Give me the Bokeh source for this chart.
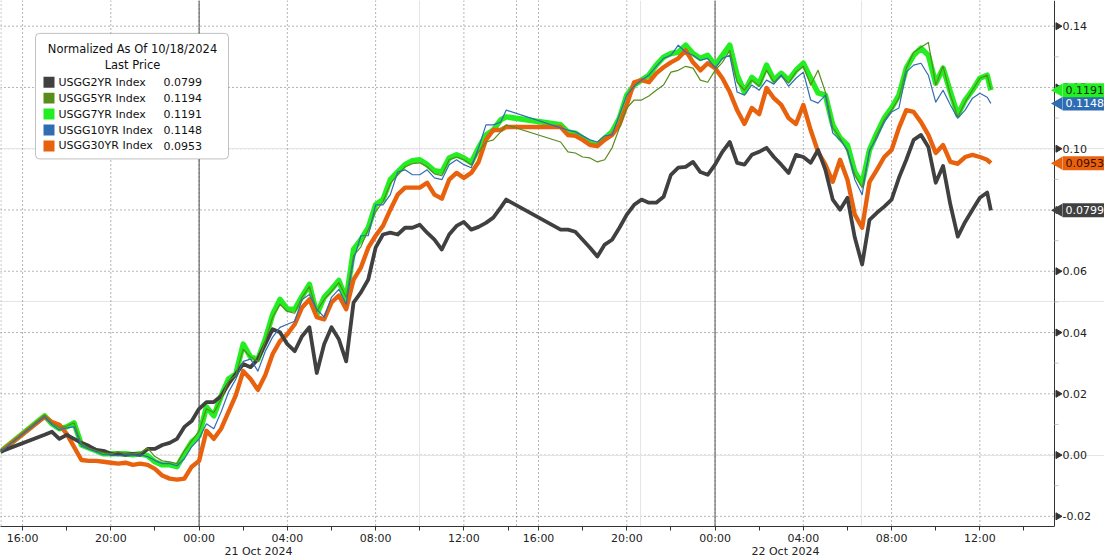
import math
import pandas as pd
from bokeh.plotting import figure
from bokeh.models import (Range1d, LinearAxis, FixedTicker, Span, Label, BoxAnnotation,
                          ColumnDataSource)
from bokeh.core.properties import value
from bokeh.embed import file_html
from bokeh.resources import INLINE

# ---------------- data ----------------
base_time = "2024-10-20 15:00"          # normalisation point (close of 10/18)
s1_start, s1_end, s1_last = "2024-10-20 17:00", "2024-10-21 13:40", "2024-10-21 13:55"
s2_start, s2_end, s2_last = "2024-10-21 17:00", "2024-10-22 12:20", "2024-10-22 12:30"
step = "20min"

series_names = ["USGG2YR Index", "USGG5YR Index", "USGG7YR Index", "USGG10YR Index", "USGG30YR Index"]

usgg2yr = [0.0011,
    # 21 Oct session
    0.0066, 0.0076, 0.0053, 0.0066, 0.0053, 0.0040, 0.0030, 0.0017, 0.0014,
    0.0004, 0.0004, 0.0001, 0.0004, 0.0001, 0.0020, 0.0020, 0.0033, 0.0040,
    0.0053, 0.0092, 0.0111, 0.0151, 0.0173, 0.0173, 0.0193, 0.0232, 0.0265,
    0.0297, 0.0287, 0.0313, 0.0362, 0.0411, 0.0401, 0.0362, 0.0339, 0.0388,
    0.0417, 0.0268, 0.0362, 0.0417, 0.0378, 0.0306, 0.0498, 0.0531, 0.0573,
    0.0677, 0.0720, 0.0726, 0.0720, 0.0742, 0.0742, 0.0752, 0.0726, 0.0703,
    0.0671, 0.0720, 0.0748, 0.0761, 0.0736, 0.0745, 0.0758, 0.0775, 0.0808,
    0.0834,
    # 22 Oct session
    0.0736, 0.0736, 0.0729, 0.0703, 0.0677, 0.0648, 0.0687, 0.0703, 0.0742,
    0.0785, 0.0817, 0.0834, 0.0824, 0.0824, 0.0843, 0.0915, 0.0938, 0.0941,
    0.0957, 0.0924, 0.0915, 0.0948, 0.0990, 0.1022, 0.0954, 0.0948, 0.0980,
    0.0990, 0.1003, 0.0973, 0.0948, 0.0921, 0.0980, 0.0973, 0.0954, 0.0996,
    0.0931, 0.0834, 0.0801, 0.0840, 0.0710, 0.0622, 0.0768, 0.0791, 0.0811,
    0.0834, 0.0905, 0.0964, 0.1029, 0.1045, 0.1006, 0.0889, 0.0944, 0.0817,
    0.0713, 0.0761, 0.0801, 0.0840, 0.0857, 0.0799]

usgg5yr = [0.0011,
    0.0131, 0.0105, 0.0089, 0.0095, 0.0105, 0.0037, 0.0023, 0.0014, 0.0007,
    0.0004, 0.0011, 0.0004, 0.0004, 0.0007, 0.0023, -0.0005, -0.0019, -0.0022,
    -0.0028, 0.0014, 0.0046, 0.0079, 0.0151, 0.0138, 0.0183, 0.0242, 0.0261,
    0.0346, 0.0320, 0.0306, 0.0372, 0.0450, 0.0492, 0.0469, 0.0463, 0.0515,
    0.0550, 0.0469, 0.0508, 0.0534, 0.0563, 0.0515, 0.0651, 0.0680, 0.0736,
    0.0794, 0.0827, 0.0886, 0.0915, 0.0941, 0.0951, 0.0954, 0.0941, 0.0918,
    0.0912, 0.0964, 0.0973, 0.0964, 0.0948, 0.0990, 0.1022, 0.1029, 0.1055,
    0.1078,
    0.1022, 0.0990, 0.0986, 0.0973, 0.0970, 0.0957, 0.0964, 0.1003, 0.1068,
    0.1133, 0.1159, 0.1159, 0.1172, 0.1191, 0.1208, 0.1250, 0.1256, 0.1269,
    0.1263, 0.1224, 0.1217, 0.1256, 0.1282, 0.1321, 0.1217, 0.1191, 0.1224,
    0.1204, 0.1256, 0.1217, 0.1240, 0.1214, 0.1250, 0.1269, 0.1208, 0.1256,
    0.1185, 0.1068, 0.1035, 0.0990, 0.0915, 0.0873, 0.0990, 0.1045, 0.1094,
    0.1126, 0.1165, 0.1263, 0.1315, 0.1331, 0.1347, 0.1208, 0.1269, 0.1175,
    0.1104, 0.1152, 0.1191, 0.1230, 0.1240, 0.1194]

usgg7yr = [0.0011,
    0.0128, 0.0102, 0.0086, 0.0092, 0.0105, 0.0033, 0.0023, 0.0014, 0.0004,
    0.0004, 0.0004, 0.0004, 0.0001, 0.0004, -0.0002, -0.0022, -0.0032, -0.0032,
    -0.0038, 0.0004, 0.0043, 0.0063, 0.0157, 0.0128, 0.0193, 0.0248, 0.0265,
    0.0362, 0.0320, 0.0313, 0.0378, 0.0459, 0.0508, 0.0476, 0.0476, 0.0518,
    0.0557, 0.0459, 0.0515, 0.0541, 0.0570, 0.0508, 0.0671, 0.0703, 0.0742,
    0.0817, 0.0834, 0.0899, 0.0924, 0.0948, 0.0961, 0.0964, 0.0948, 0.0928,
    0.0924, 0.0970, 0.0980, 0.0970, 0.0954, 0.1003, 0.1045, 0.1061, 0.1094,
    0.1104,
    0.1078, 0.1055, 0.1051, 0.1035, 0.1019, 0.1012, 0.1035, 0.1055, 0.1100,
    0.1175, 0.1208, 0.1224, 0.1240, 0.1273, 0.1299, 0.1311, 0.1315, 0.1338,
    0.1311, 0.1295, 0.1305, 0.1273, 0.1305, 0.1338, 0.1240, 0.1185, 0.1233,
    0.1211, 0.1273, 0.1224, 0.1246, 0.1224, 0.1256, 0.1279, 0.1230, 0.1182,
    0.1175, 0.1078, 0.1035, 0.1012, 0.0924, 0.0886, 0.0996, 0.1051, 0.1100,
    0.1133, 0.1175, 0.1263, 0.1305, 0.1328, 0.1305, 0.1214, 0.1263, 0.1185,
    0.1110, 0.1159, 0.1191, 0.1230, 0.1240, 0.1191]

usgg10yr = [0.0011,
    0.0125, 0.0099, 0.0082, 0.0089, 0.0092, 0.0030, 0.0020, 0.0011, 0.0001,
    0.0001, -0.0002, 0.0001, -0.0002, 0.0001, -0.0005, -0.0018, -0.0028, -0.0028,
    -0.0035, -0.0012, 0.0027, 0.0053, 0.0102, 0.0086, 0.0141, 0.0206, 0.0248,
    0.0306, 0.0313, 0.0274, 0.0339, 0.0385, 0.0417, 0.0427, 0.0437, 0.0508,
    0.0524, 0.0476, 0.0450, 0.0515, 0.0541, 0.0492, 0.0637, 0.0716, 0.0716,
    0.0817, 0.0817, 0.0850, 0.0924, 0.0931, 0.0915, 0.0915, 0.0931, 0.0905,
    0.0899, 0.0948, 0.0964, 0.0948, 0.0938, 0.1003, 0.1078, 0.1078, 0.1087,
    0.1126,
    0.1068, 0.1061, 0.1055, 0.1042, 0.1029, 0.1022, 0.1042, 0.1045, 0.1110,
    0.1175, 0.1204, 0.1224, 0.1240, 0.1269, 0.1295, 0.1305, 0.1338, 0.1315,
    0.1305, 0.1289, 0.1295, 0.1263, 0.1295, 0.1305, 0.1185, 0.1175, 0.1208,
    0.1191, 0.1224, 0.1211, 0.1240, 0.1204, 0.1230, 0.1250, 0.1159, 0.1149,
    0.1175, 0.1051, 0.1029, 0.0996, 0.0899, 0.0850, 0.0996, 0.1035, 0.1087,
    0.1120, 0.1133, 0.1250, 0.1273, 0.1279, 0.1240, 0.1152, 0.1191, 0.1143,
    0.1100, 0.1126, 0.1165, 0.1181, 0.1168, 0.1148]

usgg30yr = [0.0011,
    0.0125, 0.0108, 0.0099, 0.0069, 0.0027, -0.0016, -0.0019, -0.0019, -0.0022,
    -0.0025, -0.0028, -0.0025, -0.0032, -0.0028, -0.0032, -0.0045, -0.0067, -0.0077,
    -0.0080, -0.0077, -0.0038, -0.0019, 0.0079, 0.0053, 0.0086, 0.0141, 0.0196,
    0.0274, 0.0248, 0.0213, 0.0261, 0.0330, 0.0372, 0.0395, 0.0427, 0.0482,
    0.0508, 0.0450, 0.0443, 0.0498, 0.0521, 0.0476, 0.0573, 0.0612, 0.0677,
    0.0716, 0.0748, 0.0801, 0.0850, 0.0873, 0.0873, 0.0873, 0.0889, 0.0850,
    0.0837, 0.0899, 0.0921, 0.0905, 0.0921, 0.0957, 0.1029, 0.1061, 0.1061,
    0.1071,
    0.1071, 0.1045, 0.1042, 0.1029, 0.1012, 0.1009, 0.1029, 0.1045, 0.1078,
    0.1143, 0.1217, 0.1224, 0.1217, 0.1246, 0.1266, 0.1282, 0.1295, 0.1321,
    0.1282, 0.1256, 0.1279, 0.1263, 0.1230, 0.1185, 0.1126, 0.1081, 0.1133,
    0.1113, 0.1198, 0.1165, 0.1143, 0.1100, 0.1081, 0.1143, 0.1061, 0.0990,
    0.0948, 0.0892, 0.0964, 0.0899, 0.0785, 0.0742, 0.0892, 0.0931, 0.0973,
    0.0996, 0.1068, 0.1126, 0.1120, 0.1087, 0.1045, 0.0986, 0.1012, 0.0957,
    0.0951, 0.0973, 0.0980, 0.0973, 0.0964, 0.0953]

series_colors = {"USGG2YR Index": "#404040", "USGG5YR Index": "#5a8c1c",
                 "USGG7YR Index": "#22ee22", "USGG10YR Index": "#2f6db3",
                 "USGG30YR Index": "#e8620e"}
series_widths = {"USGG2YR Index": 3.8, "USGG5YR Index": 1.2, "USGG7YR Index": 5.5,
                 "USGG10YR Index": 1.2, "USGG30YR Index": 4.4}
series_values = {"USGG2YR Index": usgg2yr, "USGG5YR Index": usgg5yr,
                 "USGG7YR Index": usgg7yr, "USGG10YR Index": usgg10yr,
                 "USGG30YR Index": usgg30yr}

# ---------------- time axis (compressed at the session break) ----------------
MIDNIGHT = pd.Timestamp("2024-10-21 00:00")
BREAK_TIME = pd.Timestamp("2024-10-21 15:00")
BREAK_GAP_H = 0.617


def ax_hours(ts):
    ts = pd.Timestamp(ts)
    h = (ts - MIDNIGHT).total_seconds() / 3600.0
    return h - BREAK_GAP_H if ts >= BREAK_TIME else h


times = ([pd.Timestamp(base_time)]
         + list(pd.date_range(s1_start, s1_end, freq=step)) + [pd.Timestamp(s1_last)]
         + list(pd.date_range(s2_start, s2_end, freq=step)) + [pd.Timestamp(s2_last)])
xs = [ax_hours(t) for t in times]

X0 = ax_hours(base_time)
X_PLOT_END = ax_hours("2024-10-22 15:23")   # where the value axis sits
BRK = ax_hours(BREAK_TIME)
Y0, Y1 = -0.02332, 0.14839
PLOT_W, FRAME_H = 1054, 528


def sx(px):
    return X0 + px / PLOT_W * (X_PLOT_END - X0)


def sy(py):
    return Y1 - py / FRAME_H * (Y1 - Y0)


X1 = sx(1104)           # frame runs under the value-axis panel too
AXIS_X = X_PLOT_END
FONT = "DejaVu Sans"

p = figure(width=1104, height=560, x_range=Range1d(X0, X1), y_range=Range1d(Y0, Y1),
           x_axis_location=None, y_axis_location=None, toolbar_location=None,
           output_backend="svg", min_border_left=0, min_border_top=0,
           min_border_right=0, min_border_bottom=28, outline_line_color=None,
           background_fill_color="white", border_fill_color="white",
           margin=(0, 0, 0, 0))

# ticks
tick_times = (list(pd.date_range("2024-10-20 16:00", "2024-10-21 14:00", freq="2h"))
              + list(pd.date_range("2024-10-21 16:00", "2024-10-22 14:00", freq="2h")))
tick_pos = [ax_hours(t) for t in tick_times]
label_times = [t for t in tick_times if t.hour % 4 == 0]
label_pos = [ax_hours(t) for t in label_times]
grid_pos = [X0 + 0.02, BRK] + label_pos

y_ticks = [round(-0.02 + 0.02 * i, 2) for i in range(9)]
y_minor = [round(-0.01 + 0.02 * i, 2) for i in range(8)]

# dotted grid
p.segment(x0=[X0] * len(y_ticks), y0=y_ticks, x1=[AXIS_X] * len(y_ticks), y1=y_ticks,
          line_color="#6a6a6a", line_dash="1 3", line_width=1, level="underlay")
for xv in grid_pos:
    p.add_layout(Span(location=xv, dimension="height", line_color="#6a6a6a",
                      line_dash="1 3", line_width=1, level="underlay"))
for d in ["2024-10-21 00:00", "2024-10-22 00:00"]:
    p.add_layout(Span(location=ax_hours(d), dimension="height", line_color="#555555",
                      line_width=1, level="underlay"))

# time axis: labelled 4h ticks (+ date captions on a 2nd line), tick marks every 2h
date_pos = [(X0 + BRK) / 2, (BRK + X_PLOT_END) / 2]
date_lab = ["21 Oct 2024", "22 Oct 2024"]
overrides = {pos: t.strftime("%H:%M") for pos, t in zip(label_pos, label_times)}
overrides.update({pos: "\n" + lab for pos, lab in zip(date_pos, date_lab)})
xa = LinearAxis(ticker=FixedTicker(ticks=label_pos + date_pos, minor_ticks=tick_pos),
                major_label_overrides=overrides, bounds=(X0, AXIS_X))
xa.axis_line_color = "#333333"
xa.major_tick_line_color = None
xa.major_tick_out = 0
xa.major_tick_in = 0
xa.minor_tick_line_color = "#333333"
xa.minor_tick_out = 4
xa.minor_tick_in = 0
xa.major_label_standoff = 1
xa.major_label_text_font = FONT
xa.major_label_text_font_size = "11px"
xa.major_label_text_color = "#222222"
xa.major_label_text_line_height = 1.0
p.add_layout(xa, "below")

# value axis on the right (drawn in the frame so the last-value tags can overlap it)
p.segment(x0=[AXIS_X], y0=[Y0], x1=[AXIS_X], y1=[Y1], line_color="#333333", line_width=1)
p.segment(x0=[AXIS_X] * len(y_minor), y0=y_minor, x1=[sx(1058)] * len(y_minor), y1=y_minor,
          line_color="#c4c4c4", line_width=1)
p.scatter(x=[sx(1057.5)] * len(y_ticks), y=y_ticks, marker="triangle", angle=-math.pi / 2,
          size=7, fill_color="#333333", line_color="#333333")
p.text(x=[sx(1062)] * len(y_ticks), y=y_ticks, text=[f"{v:.2f}" for v in y_ticks],
       text_font=value(FONT), text_font_size=value("11px"), text_color="#222222",
       text_baseline="middle", text_align="left")

# lines (drawing order: 7Y, 30Y, 2Y, 5Y, 10Y)
for name in ["USGG7YR Index", "USGG30YR Index", "USGG2YR Index", "USGG5YR Index", "USGG10YR Index"]:
    src = ColumnDataSource(dict(x=xs, y=series_values[name]))
    p.line("x", "y", source=src, line_color=series_colors[name],
           line_width=series_widths[name], line_join="round")

# legend box
p.add_layout(BoxAnnotation(left=sx(35), right=sx(228), top=sy(33), bottom=sy(159),
                           fill_color="white", fill_alpha=1, line_color="#333333",
                           line_width=1, border_radius=4))
p.add_layout(Label(x=sx(132), y=sy(49), text="Normalized As Of 10/18/2024", text_align="center",
                   text_baseline="middle", text_font=FONT, text_font_size="11.5px", text_color="#111111"))
p.add_layout(Label(x=sx(132), y=sy(65), text="Last Price", text_align="center",
                   text_baseline="middle", text_font=FONT, text_font_size="11.5px", text_color="#111111"))
for i, name in enumerate(series_names):
    cy = 82 + 16 * i
    p.add_layout(BoxAnnotation(left=sx(43), right=sx(54), top=sy(cy - 5.5), bottom=sy(cy + 5.5),
                               fill_color=series_colors[name], fill_alpha=1, line_color=None))
    p.add_layout(Label(x=sx(58), y=sy(cy), text=name, text_align="left", text_baseline="middle",
                       text_font=FONT, text_font_size="11px", text_color="#111111"))
    p.add_layout(Label(x=sx(163), y=sy(cy), text=f"{series_values[name][-1]:.4f}", text_align="left",
                       text_baseline="middle", text_font=FONT, text_font_size="11px", text_color="#111111"))

# last-value tags over the value axis
tag_style = {"USGG10YR Index": ("#2f6db3", "#ffffff"),
             "USGG7YR Index": ("#22ee22", "#0d2a0d"),
             "USGG30YR Index": ("#e8620e", "#3a0c00"),
             "USGG2YR Index": ("#404040", "#ffffff")}
tag_order = ["USGG10YR Index", "USGG7YR Index", "USGG30YR Index", "USGG2YR Index"]
p.scatter(x=[sx(1058)] * len(tag_order), y=[series_values[n][-1] for n in tag_order],
          marker="triangle", angle=math.pi / 2, size=13,
          fill_color=[tag_style[n][0] for n in tag_order], line_color=None)
for name in tag_order:
    bg, fg = tag_style[name]
    last = series_values[name][-1]
    p.add_layout(Label(x=sx(1062), y=last, text=f"{last:.4f}", text_align="left", text_baseline="middle",
                       text_font=FONT, text_font_size="11px", text_color=fg,
                       background_fill_color=bg, background_fill_alpha=1, padding=3))

open("out.html", "w").write(file_html(p, INLINE))
